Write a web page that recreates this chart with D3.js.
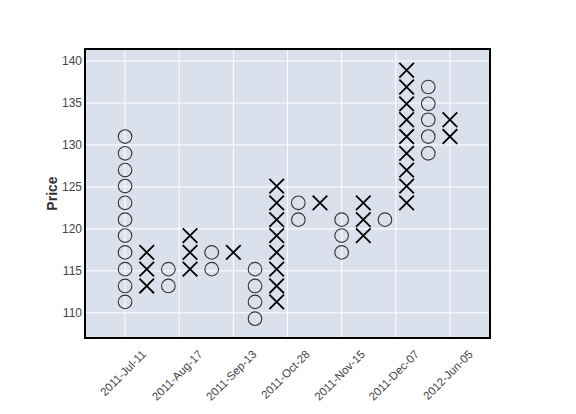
<!DOCTYPE html>
<html>
<head>
<meta charset="utf-8">
<script src="https://cdn.jsdelivr.net/npm/d3@7"></script>
<style>
    body { margin: 0; background: #ffffff; }
    text { font-family: "Liberation Sans", Arial, sans-serif; }
</style>
</head>
<body>
<div id="chart"></div>
<script>
// Point & figure columns: type and the box prices in each column
const colTypes = ["O", "X", "O", "X", "O", "X", "O", "X", "O", "X", "O", "X", "O", "X", "O", "X"];
const colPrices = [
    [111.3, 113.2, 115.2, 117.2, 119.2, 121.1, 123.1, 125.1, 127.0, 129.0, 131.0],
    [113.2, 115.2, 117.2],
    [113.2, 115.2],
    [115.2, 117.2, 119.2],
    [115.2, 117.2],
    [117.2],
    [109.3, 111.3, 113.2, 115.2],
    [111.3, 113.2, 115.2, 117.2, 119.2, 121.1, 123.1, 125.1],
    [121.1, 123.1],
    [123.1],
    [117.2, 119.2, 121.1],
    [119.2, 121.1, 123.1],
    [121.1],
    [123.1, 125.1, 127.0, 129.0, 131.0, 133.0, 134.9, 136.9, 138.9],
    [129.0, 131.0, 133.0, 134.9, 136.9],
    [131.0, 133.0]
];
const xTickPos = [0, 2.5, 5, 7.5, 10, 12.5, 15];
const xTickLabels = ["2011-Jul-11", "2011-Aug-17", "2011-Sep-13", "2011-Oct-28",
    "2011-Nov-15", "2011-Dec-07", "2012-Jun-05"];
const yTicks = [110, 115, 120, 125, 130, 135, 140];

const width = 576, height = 414;
const plot = {left: 85, right: 490, top: 49, bottom: 338};

const svg = d3.select("#chart").append("svg")
    .attr("width", width)
    .attr("height", height);

const x = d3.scaleLinear().domain([-1.85, 16.85]).range([plot.left, plot.right]);
const y = d3.scaleLinear().domain([107.0, 141.43]).range([plot.bottom, plot.top]);

// Background
svg.append("rect")
    .attr("x", plot.left)
    .attr("y", plot.top)
    .attr("width", plot.right - plot.left)
    .attr("height", plot.bottom - plot.top)
    .attr("fill", "#dbe1ec");

// Grid
svg.append("g").selectAll("line")
    .data(yTicks)
    .join("line")
    .attr("x1", plot.left).attr("x2", plot.right)
    .attr("y1", d => y(d)).attr("y2", d => y(d))
    .attr("stroke", "#ffffff")
    .attr("stroke-width", 1);
svg.append("g").selectAll("line")
    .data(xTickPos)
    .join("line")
    .attr("x1", d => x(d)).attr("x2", d => x(d))
    .attr("y1", plot.top).attr("y2", plot.bottom)
    .attr("stroke", "#ffffff")
    .attr("stroke-width", 1);

// Marks
const boxes = [];
colPrices.forEach((prices, i) => {
    for (const p of prices) {
        boxes.push({col: i, price: p, type: colTypes[i]})
    }
});

const marks = svg.append("g");
const r = 6.8, h = 7.3;
marks.selectAll("circle")
    .data(boxes.filter(d => d.type === "O"))
    .join("circle")
    .attr("cx", d => x(d.col))
    .attr("cy", d => y(d.price))
    .attr("r", r)
    .attr("fill", "none")
    .attr("stroke", "#333333")
    .attr("stroke-width", 1.1);
marks.selectAll("path")
    .data(boxes.filter(d => d.type === "X"))
    .join("path")
    .attr("d", d => {
        const cx = x(d.col), cy = y(d.price);
        return `M${cx - h},${cy - h}L${cx + h},${cy + h}M${cx - h},${cy + h}L${cx + h},${cy - h}`
    })
    .attr("stroke", "#000000")
    .attr("stroke-width", 1.8)
    .attr("fill", "none");

// Frame
svg.append("rect")
    .attr("x", plot.left)
    .attr("y", plot.top)
    .attr("width", plot.right - plot.left)
    .attr("height", plot.bottom - plot.top)
    .attr("fill", "none")
    .attr("stroke", "#000000")
    .attr("stroke-width", 2);

// Y tick labels
svg.append("g").selectAll("text")
    .data(yTicks)
    .join("text")
    .attr("x", plot.left - 3)
    .attr("y", d => y(d))
    .attr("dy", "0.35em")
    .attr("text-anchor", "end")
    .attr("font-size", 12)
    .attr("fill", "#444444")
    .text(d => d);

// X tick labels, rotated 45 and roughly centred under the tick
const xLabels = svg.append("g").selectAll("text")
    .data(xTickPos)
    .join("text")
    .attr("text-anchor", "middle")
    .attr("dy", "0.35em")
    .attr("font-size", 11.5)
    .attr("fill", "#444444")
    .text((d, i) => xTickLabels[i]);
xLabels.each(function(d) {
    const len = this.getComputedTextLength();
    const half = (len + 11.5) / (2 * Math.SQRT2);
    const cx = x(d) - 2, cy = plot.bottom + 10 + half;
    d3.select(this)
        .attr("x", cx)
        .attr("y", cy)
        .attr("transform", `rotate(-45,${cx},${cy})`)
});

// Y axis title
svg.append("text")
    .attr("transform", `translate(57,${(plot.top + plot.bottom) / 2}) rotate(-90)`)
    .attr("text-anchor", "middle")
    .attr("font-size", 14)
    .attr("font-weight", "bold")
    .attr("fill", "#333333")
    .text("Price");
</script>
</body>
</html>
